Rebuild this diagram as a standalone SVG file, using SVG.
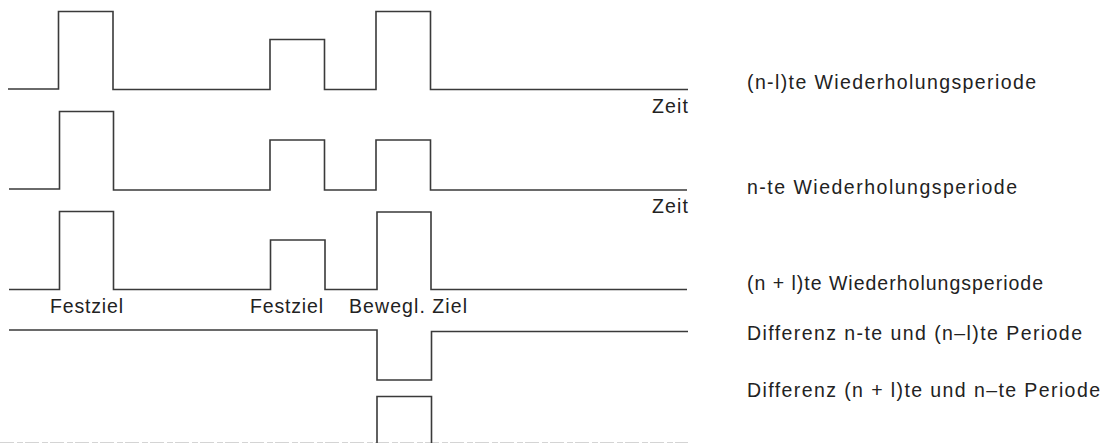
<svg xmlns="http://www.w3.org/2000/svg" width="1103" height="443" viewBox="0 0 1103 443">
  <style>
    .wave { fill: none; stroke: #3a3a3a; stroke-width: 1.6; stroke-linejoin: miter; }
    .faint { fill: none; stroke: #d4d4d4; stroke-width: 1; stroke-dasharray: 14 3 6 2; }
    text { font-family: "Liberation Sans", Arial, sans-serif; font-size: 19.5px; fill: #222; }
  </style>
  <rect width="1103" height="443" fill="#ffffff"/>

  <!-- pulse trains, one per repetition period -->
  <g id="period-n-minus-1">
    <path class="wave" d="M8,89 H58.5 V11.5 H113 V89.5 H270 V39.5 H324.5 V89.5 H376 V11.5 H430.5 V89.5 H688"/>
    <text x="652" y="113" textLength="36" lengthAdjust="spacing">Zeit</text>
  </g>

  <g id="period-n">
    <path class="wave" d="M9,189 H59.5 V111.5 H113.5 V190 H270 V140 H324.5 V190 H376 V140 H430.5 V190 H687"/>
    <text x="652" y="212.5" textLength="36" lengthAdjust="spacing">Zeit</text>
  </g>

  <g id="period-n-plus-1">
    <path class="wave" d="M9,289.5 H59.5 V211.5 H113.5 V289.5 H270.5 V240 H325 V289.5 H377 V212 H431 V289.5 H687"/>
    <text x="50" y="313" textLength="73" lengthAdjust="spacing">Festziel</text>
    <text x="250" y="313" textLength="73" lengthAdjust="spacing">Festziel</text>
    <text x="349" y="313" textLength="118" lengthAdjust="spacing">Bewegl. Ziel</text>
  </g>

  <g id="difference-n-and-n-minus-1">
    <path class="wave" d="M9,330 H377 V380 H431.5 V331.5 H688"/>
  </g>

  <g id="difference-n-plus-1-and-n">
    <path class="faint" d="M0,442.5 H688"/>
    <path class="wave" d="M377,443 V396.5 H431.5 V443"/>
  </g>

  <!-- row captions -->
  <g id="captions">
    <text x="747" y="89" textLength="289" lengthAdjust="spacing">(n-l)te Wiederholungsperiode</text>
    <text x="747" y="193.5" textLength="270" lengthAdjust="spacing">n-te Wiederholungsperiode</text>
    <text x="747" y="290" textLength="296" lengthAdjust="spacing">(n + l)te Wiederholungsperiode</text>
    <text x="747" y="340" textLength="335" lengthAdjust="spacing">Differenz n-te und (n–l)te Periode</text>
    <text x="747" y="396.5" textLength="353" lengthAdjust="spacing">Differenz (n + l)te und n–te Periode</text>
  </g>
</svg>
